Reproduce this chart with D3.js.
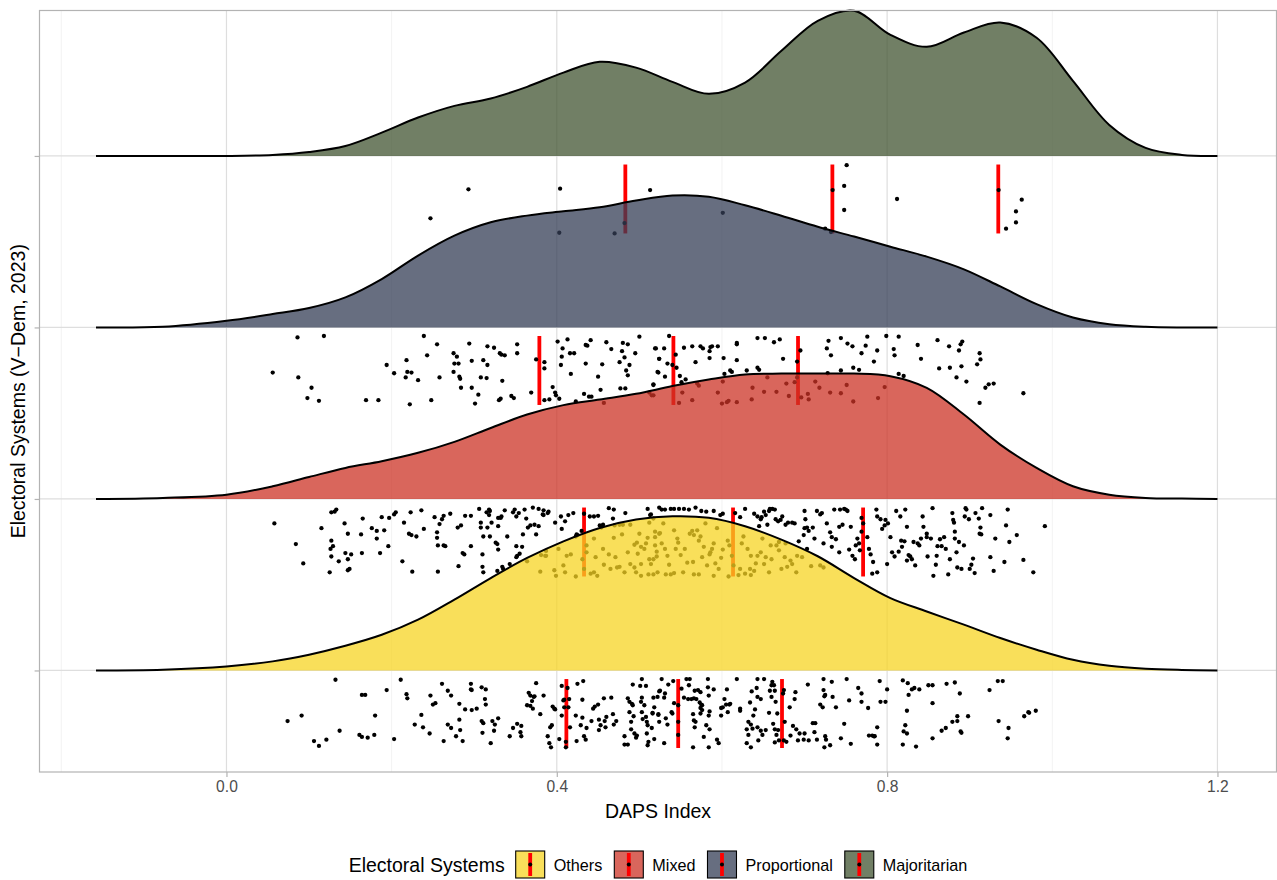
<!DOCTYPE html>
<html><head><meta charset="utf-8">
<script src="https://cdn.jsdelivr.net/npm/d3@7"></script>
<style>
body{margin:0;background:#fff}
svg{display:block;font-family:"Liberation Sans",Arial,Helvetica,sans-serif}
</style></head>
<body><svg id="chart" width="1277" height="880"></svg>
<script>
// ---------- data ----------
const categories = ["Others", "Mixed", "Proportional", "Majoritarian"];
const fillColors = ["#F7D423", "#CC3326", "#343E56", "#425432"];
const xTicks = [0, 0.4, 0.8, 1.2];
const xMinorTicks = [-0.2, 0.2, 0.6, 1.0];
const xTitle = "DAPS Index";
const yTitle = "Electoral Systems (V\u2212Dem, 2023)";
const legendTitle = "Electoral Systems";

// density curve sample positions (DAPS) and scaled ridge heights
const densityX = [-0.158,-0.077,0,0.056,0.100,0.144,0.188,0.232,0.276,0.320,0.364,0.408,0.452,0.496,0.540,0.584,0.628,0.672,0.716,0.760,0.804,0.848,0.893,0.937,0.981,1.025,1.069,1.113,1.157,1.200];
const densOthers = [0,0.004,0.023,0.053,0.092,0.144,0.208,0.296,0.413,0.539,0.656,0.753,0.831,0.880,0.899,0.890,0.841,0.763,0.666,0.539,0.422,0.344,0.267,0.189,0.121,0.062,0.027,0.010,0.003,0];
const densMixed = [0,0.006,0.025,0.074,0.128,0.181,0.220,0.269,0.333,0.414,0.492,0.547,0.580,0.613,0.658,0.696,0.726,0.731,0.731,0.731,0.716,0.648,0.492,0.317,0.181,0.074,0.025,0.006,0.002,0];
const densProportional = [0,0.004,0.039,0.078,0.113,0.175,0.282,0.419,0.535,0.613,0.652,0.677,0.701,0.740,0.769,0.762,0.712,0.651,0.587,0.530,0.471,0.413,0.339,0.239,0.136,0.058,0.019,0.004,0,0];
const densMajoritarian = [0,0,0,0.006,0.023,0.058,0.136,0.224,0.292,0.335,0.403,0.486,0.549,0.515,0.432,0.362,0.428,0.613,0.788,0.846,0.706,0.636,0.720,0.778,0.689,0.438,0.181,0.047,0.006,0];

// quartile markers (25%, 50%, 75%)
const quantOthers = [0.4116, 0.547, 0.6727];
const quantMixed = [0.433, 0.6134, 0.7709];
const quantProportional = [0.3789, 0.5412, 0.6921];
const quantMajoritarian = [0.483, 0.7337, 0.9346];

// observations: [DAPS index, jitter (0 = top of rain band, 1 = bottom)]
const ptsOthers = [[0.132,0.01],[0.074,0.61],[0.091,0.53],[0.106,0.90],[0.112,0.97],[0.121,0.88],[0.137,0.75],[0.164,0.23],[0.168,0.23],[0.180,0.53],[0.161,0.81],[0.164,0.84],[0.171,0.85],[0.179,0.81],[0.194,0.16],[0.203,0.87],[0.211,0.01],[0.218,0.22],[0.219,0.28],[0.228,0.66],[0.236,0.52],[0.238,0.70],[0.246,0.79],[0.247,0.24],[0.250,0.37],[0.253,0.35],[0.261,0.07],[0.263,0.90],[0.268,0.17],[0.272,0.24],[0.268,0.66],[0.272,0.71],[0.278,0.83],[0.282,0.36],[0.282,0.59],[0.283,0.74],[0.286,0.90],[0.289,0.44],[0.296,0.07],[0.296,0.15],[0.297,0.16],[0.297,0.45],[0.303,0.43],[0.309,0.12],[0.314,0.15],[0.313,0.29],[0.314,0.37],[0.309,0.61],[0.311,0.64],[0.310,0.78],[0.320,0.93],[0.322,0.61],[0.325,0.66],[0.324,0.75],[0.329,0.57],[0.343,0.83],[0.347,0.71],[0.352,0.65],[0.356,0.77],[0.357,0.68],[0.357,0.83],[0.364,0.38],[0.368,0.39],[0.366,0.20],[0.368,0.24],[0.370,0.32],[0.371,0.43],[0.372,0.26],[0.375,0.06],[0.373,0.25],[0.384,0.24],[0.380,0.51],[0.389,0.83],[0.391,0.93],[0.393,0.99],[0.392,0.70],[0.394,0.67],[0.395,0.40],[0.397,0.43],[0.398,0.44],[0.403,0.87],[0.406,0.10],[0.406,0.53],[0.408,0.31],[0.409,0.41],[0.409,0.30],[0.411,0.99],[0.411,0.91],[0.413,0.13],[0.415,0.29],[0.414,0.41],[0.416,0.70],[0.423,0.53],[0.424,0.90],[0.425,0.07],[0.432,0.03],[0.431,0.30],[0.429,0.67],[0.431,0.56],[0.433,0.83],[0.435,0.88],[0.436,0.71],[0.442,0.61],[0.444,0.43],[0.446,0.40],[0.450,0.37],[0.451,0.59],[0.451,0.74],[0.453,0.67],[0.457,0.28],[0.458,0.61],[0.460,0.55],[0.459,0.70],[0.466,0.27],[0.468,0.51],[0.469,0.66],[0.472,0.61],[0.482,0.83],[0.482,0.95],[0.486,0.95],[0.486,0.28],[0.488,0.33],[0.488,0.48],[0.491,0.36],[0.492,0.08],[0.492,0.38],[0.493,0.54],[0.490,0.62],[0.490,0.73],[0.494,0.79],[0.496,0.85],[0.497,0.82],[0.501,0.10],[0.503,0.00],[0.503,0.27],[0.503,0.48],[0.502,0.33],[0.504,0.58],[0.506,0.38],[0.508,0.55],[0.508,0.10],[0.509,0.62],[0.509,0.79],[0.510,0.67],[0.510,0.96],[0.511,0.91],[0.516,0.49],[0.517,0.27],[0.522,0.26],[0.523,0.51],[0.524,0.18],[0.524,0.62],
[0.527,0.00],[0.518,0.41],[0.516,0.50],[0.515,0.71],[0.518,0.87],[0.523,0.52],[0.525,0.17],[0.530,0.27],[0.532,0.57],[0.535,0.08],[0.531,0.21],[0.530,0.93],[0.534,0.66],[0.539,0.48],[0.540,0.50],[0.541,0.03],[0.542,0.35],[0.547,0.38],[0.547,0.62],[0.547,0.81],[0.551,0.14],[0.554,0.27],[0.557,0.00],[0.561,0.00],[0.560,0.09],[0.559,0.29],[0.563,0.29],[0.566,0.28],[0.569,0.29],[0.567,0.17],[0.571,0.16],[0.574,0.19],[0.573,0.34],[0.575,0.37],[0.574,0.42],[0.576,0.38],[0.565,0.51],[0.566,0.60],[0.567,0.70],[0.568,0.62],[0.574,0.50],[0.576,0.45],[0.581,0.67],[0.585,0.73],[0.585,0.47],[0.584,0.53],[0.583,0.00],[0.583,0.12],[0.584,0.24],[0.590,0.15],[0.578,0.84],[0.565,0.99],[0.584,0.99],[0.594,0.88],[0.596,0.93],[0.599,0.53],[0.599,0.42],[0.601,0.41],[0.603,0.29],[0.605,0.37],[0.606,0.15],[0.607,0.48],[0.609,0.37],[0.610,0.36],[0.618,0.00],[0.622,0.43],[0.622,0.46],[0.634,0.34],[0.636,0.18],[0.638,0.53],[0.640,0.44],[0.642,0.13],[0.643,0.00],[0.643,0.26],[0.647,0.29],[0.651,0.00],[0.632,0.62],[0.635,0.66],[0.630,0.73],[0.632,0.81],[0.630,0.93],[0.635,0.99],[0.637,0.72],[0.643,0.70],[0.644,0.89],[0.647,0.75],[0.649,0.81],[0.653,0.74],[0.657,0.49],[0.660,0.26],[0.658,0.17],[0.660,0.09],[0.661,0.04],[0.663,0.09],[0.664,0.17],[0.665,0.33],[0.667,0.50],[0.662,0.65],[0.664,0.73],[0.666,0.81],[0.668,0.74],[0.669,0.89],[0.664,0.92],[0.675,0.16],[0.674,0.21],[0.676,0.62],[0.675,0.89],[0.678,0.91],[0.683,0.82],[0.686,0.68],[0.688,0.29],[0.689,0.19],[0.682,0.41],[0.690,0.73],[0.692,0.89],[0.694,0.79],[0.699,0.88],[0.700,0.79],[0.704,0.08],[0.705,0.89],[0.710,0.64],[0.713,0.64],[0.712,0.77],[0.715,0.88],[0.719,0.37],[0.722,0.41],[0.723,0.00],[0.723,0.16],[0.725,0.23],[0.724,0.25],[0.725,0.83],[0.726,0.88],[0.724,0.99],[0.731,0.96],[0.733,0.04],[0.734,0.26],[0.738,0.41],[0.744,0.86],[0.748,0.65],[0.751,0.00],[0.754,0.31],[0.756,0.94],[0.765,0.13],[0.769,0.33],[0.769,0.21],[0.777,0.42],[0.778,0.82],[0.782,0.82],[0.784,0.83],[0.785,0.83],[0.788,0.70],[0.788,0.95],[0.791,0.03],[0.792,0.33],[0.798,0.33],[0.800,0.15],[0.819,0.02],[0.825,0.06],[0.826,0.23],[0.830,0.15],[0.833,0.13],[0.839,0.15],[0.850,0.09],[0.855,0.09],[0.855,0.35],[0.824,0.46],[0.822,0.67],[0.820,0.76],[0.824,0.79],[0.819,0.95],[0.835,0.98],[0.855,0.86],[0.866,0.75],[0.871,0.71],[0.872,0.07],[0.879,0.62],[0.882,0.05],[0.885,0.61],[0.885,0.54],[0.888,0.21],[0.889,0.76],[0.890,0.78],[0.898,0.54],[0.924,0.16],[0.934,0.03],[0.940,0.03],[0.935,0.61],[0.947,0.71],[0.946,0.86],[0.966,0.54],[0.971,0.48],[0.972,0.49],[0.980,0.46]];

const ptsMixed = [[0.058,0.23],[0.084,0.53],[0.093,0.81],[0.115,0.30],[0.127,0.07],[0.131,0.06],[0.133,0.03],[0.127,0.48],[0.129,0.56],[0.126,0.60],[0.127,0.71],[0.125,0.94],[0.136,0.78],[0.143,0.23],[0.147,0.38],[0.144,0.66],[0.151,0.68],[0.147,0.75],[0.147,0.91],[0.149,0.89],[0.163,0.39],[0.165,0.16],[0.164,0.66],[0.176,0.30],[0.182,0.34],[0.182,0.45],[0.186,0.66],[0.188,0.14],[0.191,0.33],[0.196,0.56],[0.197,0.15],[0.203,0.10],[0.205,0.07],[0.213,0.78],[0.215,0.22],[0.221,0.38],[0.223,0.07],[0.224,0.40],[0.225,0.93],[0.230,0.42],[0.236,0.04],[0.239,0.31],[0.252,0.14],[0.255,0.36],[0.255,0.44],[0.256,0.55],[0.256,0.93],[0.258,0.24],[0.261,0.17],[0.263,0.12],[0.263,0.55],[0.265,0.56],[0.271,0.09],[0.281,0.85],[0.280,0.29],[0.284,0.26],[0.286,0.66],[0.288,0.68],[0.289,0.12],[0.296,0.56],[0.296,0.12],[0.306,0.02],[0.308,0.22],[0.308,0.29],[0.311,0.42],[0.310,0.68],[0.310,0.86],[0.311,0.94],[0.316,0.29],[0.315,0.07],[0.318,0.03],[0.319,0.05],[0.318,0.11],[0.321,0.22],[0.319,0.42],[0.326,0.51],[0.328,0.53],[0.329,0.61],[0.328,0.92],[0.329,0.27],[0.329,0.15],[0.332,0.15],[0.333,0.13],[0.334,0.86],[0.335,0.89],[0.337,0.04],[0.340,0.42],[0.343,0.82],[0.347,0.07],[0.349,0.03],[0.351,0.13],[0.351,0.56],[0.352,0.70],[0.351,0.72],[0.354,0.08],[0.355,0.67],[0.358,0.57],[0.359,0.39],[0.361,0.03],[0.363,0.16],[0.365,0.29],[0.364,0.78],[0.368,0.26],[0.371,0.00],[0.373,0.25],[0.375,0.39],[0.378,0.02],[0.378,0.27],[0.381,0.69],[0.383,0.10],[0.384,0.04],[0.384,0.11],[0.387,0.63],[0.387,0.70],[0.389,0.08],[0.390,0.06],[0.398,0.22],[0.402,0.60],[0.405,0.13],[0.406,0.31],[0.410,0.20],[0.414,0.11],[0.420,0.08],[0.423,0.42],[0.425,0.40],[0.424,0.39],[0.430,0.34],[0.433,0.09],[0.440,0.13],[0.445,0.13],[0.450,0.12],[0.463,0.01],[0.469,0.03],[0.452,0.26],[0.454,0.29],[0.456,0.25],[0.468,0.16],[0.470,0.26],[0.476,0.25],[0.480,0.25],[0.483,0.08],[0.489,0.25],[0.510,0.02],[0.514,0.10],[0.512,0.22],[0.517,0.16],[0.524,0.00],
[0.380,0.93],[0.386,0.70],[0.397,0.91],[0.399,0.99],[0.408,0.84],[0.410,0.94],[0.412,0.70],[0.417,0.68],[0.423,1.00],[0.436,0.65],[0.436,0.55],[0.441,0.96],[0.445,0.94],[0.445,0.45],[0.447,0.72],[0.456,0.60],[0.457,0.83],[0.463,0.68],[0.469,0.44],[0.471,0.72],[0.473,0.87],[0.476,0.86],[0.479,0.39],[0.482,0.94],[0.486,0.65],[0.489,0.82],[0.494,0.54],[0.497,0.51],[0.500,0.38],[0.502,0.82],[0.502,0.57],[0.506,0.60],[0.508,0.52],[0.510,0.44],[0.512,0.75],[0.511,0.97],[0.514,0.82],[0.519,0.55],[0.521,0.71],[0.522,0.94],[0.524,0.38],[0.496,0.94],[0.502,0.99],[0.498,0.67],[0.431,0.75],[0.433,0.89],[0.449,0.99],[0.465,0.89],[0.494,0.87],
[0.519,0.43],[0.521,0.64],[0.517,0.75],[0.517,0.97],[0.527,0.52],[0.525,0.37],[0.529,0.23],[0.531,0.60],[0.534,0.70],[0.536,0.83],[0.532,0.97],[0.542,0.33],[0.542,0.95],[0.544,0.60],[0.546,0.45],[0.547,0.51],[0.550,0.69],[0.555,0.60],[0.558,0.80],[0.561,0.38],[0.564,0.34],[0.565,0.79],[0.566,0.40],[0.570,0.33],[0.572,0.48],[0.574,0.42],[0.576,0.72],[0.578,0.57],[0.572,0.97],[0.580,0.23],[0.582,0.84],[0.585,0.68],[0.586,0.65],[0.588,0.60],[0.590,0.52],[0.592,0.81],[0.594,0.30],[0.596,0.89],[0.599,0.73],[0.601,0.61],[0.607,0.48],[0.609,0.55],[0.612,0.70],[0.614,0.84],[0.622,0.89],[0.624,0.52],[0.626,0.42],[0.628,0.96],[0.631,0.60],[0.634,0.89],[0.635,0.70],[0.639,0.92],[0.641,0.81],[0.643,0.70],[0.647,0.65],[0.649,0.45],[0.651,0.82],[0.657,0.94],[0.653,0.72],[0.660,0.75],[0.659,0.55],[0.666,0.55],[0.669,0.50],[0.669,0.62],[0.672,0.89],[0.676,0.72],[0.677,0.52],[0.679,0.86],[0.683,0.77],[0.685,0.82],[0.690,0.94],[0.691,0.70],[0.697,0.72],[0.703,0.60],[0.708,0.85],[0.719,0.84],[0.723,0.87],[0.519,0.35],[0.538,0.97],[0.553,0.94],[0.566,0.97],[0.590,0.99],[0.608,1.00],[0.620,0.98],[0.635,0.98],
[0.513,0.11],[0.527,0.03],[0.531,0.03],[0.538,0.02],[0.542,0.02],[0.548,0.02],[0.554,0.02],[0.560,0.03],[0.568,0.00],[0.575,0.05],[0.581,0.06],[0.590,0.05],[0.598,0.11],[0.601,0.09],[0.616,0.08],[0.622,0.14],[0.628,0.02],[0.639,0.09],[0.643,0.13],[0.645,0.27],[0.647,0.17],[0.648,0.14],[0.651,0.06],[0.653,0.11],[0.655,0.25],[0.657,0.05],[0.658,0.02],[0.661,0.02],[0.664,0.03],[0.665,0.17],[0.668,0.20],[0.671,0.18],[0.673,0.13],[0.677,0.25],[0.680,0.22],[0.685,0.22],[0.688,0.23],[0.693,0.49],[0.699,0.40],[0.700,0.05],[0.701,0.17],[0.700,0.30],[0.703,0.29],[0.705,0.34],[0.710,0.29],[0.712,0.45],[0.715,0.05],[0.719,0.10],[0.721,0.08],[0.723,0.52],[0.727,0.23],[0.731,0.36],[0.733,0.43],[0.733,0.57],[0.736,0.03],[0.738,0.46],[0.742,0.28],[0.742,0.65],[0.743,0.03],[0.746,0.25],[0.748,0.02],[0.750,0.03],[0.752,0.05],[0.754,0.61],[0.756,0.28],[0.758,0.70],[0.761,0.75],[0.762,0.55],[0.764,0.45],[0.766,0.52],[0.767,0.62],[0.769,0.15],[0.769,0.35],[0.771,0.23],[0.776,0.43],[0.778,0.60],[0.780,0.68],[0.782,0.96],[0.783,0.79],[0.788,0.94],[0.787,0.03],[0.788,0.13],[0.792,0.17],[0.794,0.31],[0.797,0.26],[0.798,0.18],[0.800,0.82],[0.801,0.23],[0.804,0.43],[0.806,0.65],[0.809,0.71],[0.811,0.05],[0.814,0.64],[0.816,0.13],[0.817,0.48],[0.818,0.57],[0.821,0.49],[0.822,0.03],[0.824,0.28],[0.826,0.69],[0.824,0.77],[0.828,0.71],[0.830,0.75],[0.832,0.50],[0.834,0.84],[0.837,0.52],[0.839,0.55],[0.841,0.45],[0.843,0.13],[0.844,0.28],[0.848,0.38],[0.848,0.43],[0.849,0.71],[0.853,0.45],[0.855,0.01],[0.856,0.99],[0.859,0.83],[0.860,0.70],[0.861,0.56],[0.864,0.46],[0.866,0.56],[0.869,0.43],[0.871,0.60],[0.874,0.97],[0.876,0.75],[0.879,0.08],[0.880,0.18],[0.881,0.22],[0.882,0.35],[0.882,0.45],[0.884,0.65],[0.885,0.87],[0.887,0.50],[0.890,0.89],[0.893,0.55],[0.894,0.13],[0.895,0.01],[0.896,0.03],[0.899,0.17],[0.900,0.89],[0.902,0.83],[0.904,0.74],[0.906,0.95],[0.907,0.08],[0.911,0.16],[0.912,0.38],[0.913,0.29],[0.914,0.39],[0.915,0.01],[0.925,0.72],[0.925,0.11],[0.929,0.92],[0.931,0.45],[0.942,0.79],[0.944,0.26],[0.946,0.03],[0.948,0.50],[0.957,0.40],[0.965,0.76],[0.977,0.94],[0.991,0.27]];

const ptsProportional = [[0.056,0.53],[0.086,0.02],[0.118,0.00],[0.087,0.60],[0.103,0.75],[0.098,0.90],[0.112,0.94],[0.169,0.93],[0.184,0.93],[0.194,0.42],[0.203,0.54],[0.218,0.35],[0.217,0.60],[0.219,0.52],[0.224,0.53],[0.222,0.99],[0.232,0.64],[0.239,0.00],[0.243,0.28],[0.248,0.93],[0.255,0.12],[0.258,0.60],[0.275,0.25],[0.275,0.52],[0.276,0.40],[0.279,0.30],[0.281,0.40],[0.282,0.59],[0.283,0.62],[0.284,0.75],[0.294,0.11],[0.297,0.36],[0.297,0.75],[0.301,0.98],[0.305,0.85],[0.308,0.60],[0.311,0.35],[0.315,0.61],[0.316,0.42],[0.316,0.15],[0.324,0.17],[0.331,0.25],[0.333,0.27],[0.337,0.28],[0.334,0.65],[0.330,0.93],[0.332,0.91],[0.345,0.87],[0.348,0.90],[0.352,0.12],[0.352,0.25],[0.369,0.82],[0.375,0.34],[0.385,0.38],[0.385,0.47],[0.385,0.93],[0.391,0.92],[0.395,0.74],[0.398,0.82],[0.399,0.86],[0.401,0.08],[0.403,0.91],[0.405,0.42],[0.406,0.30],[0.407,0.18],[0.413,0.05],[0.416,0.25],[0.421,0.25],[0.417,0.55],[0.423,0.95],[0.433,0.84],[0.435,0.13],[0.437,0.14],[0.435,0.40],[0.439,0.88],[0.442,0.88],[0.441,0.06],[0.450,0.59],[0.453,0.78],[0.455,0.41],[0.460,0.09],[0.466,0.19],[0.476,0.38],[0.477,0.76],[0.480,0.10],[0.479,0.22],[0.483,0.76],[0.482,0.31],[0.486,0.12],[0.488,0.42],[0.484,0.50],[0.486,0.57],[0.495,0.25],[0.500,0.01],[0.517,0.71],[0.520,0.18],[0.523,0.53],[0.524,0.33],[0.457,0.97],[0.512,0.82],[0.517,0.86],
[0.536,0.00],[0.519,0.18],[0.530,0.18],[0.524,0.33],[0.534,0.40],[0.540,0.42],[0.545,0.46],[0.544,0.27],[0.554,0.17],[0.564,0.15],[0.574,0.15],[0.577,0.18],[0.586,0.16],[0.588,0.15],[0.585,0.22],[0.595,0.15],[0.585,0.32],[0.568,0.38],[0.522,0.52],[0.531,0.59],[0.549,0.58],[0.551,0.67],[0.556,0.63],[0.517,0.70],[0.618,0.10],[0.618,0.12],[0.602,0.32],[0.618,0.35],[0.603,0.55],[0.610,0.50],[0.612,0.52],[0.630,0.50],[0.643,0.46],[0.645,0.49],[0.643,0.03],[0.652,0.03],[0.663,0.09],[0.670,0.05],[0.674,0.33],[0.695,0.21],[0.691,0.37],[0.727,0.18],[0.729,0.07],[0.732,0.28],[0.744,0.03],[0.752,0.11],[0.758,0.15],[0.774,0.14],[0.776,0.01],[0.769,0.25],[0.788,0.21],[0.784,0.37],[0.744,0.50],[0.759,0.46],[0.766,0.49],[0.728,0.54],[0.799,0.00],[0.814,0.01],[0.808,0.19],[0.809,0.28],[0.837,0.13],[0.841,0.33],[0.861,0.06],[0.875,0.15],[0.887,0.21],[0.889,0.12],[0.891,0.08],[0.890,0.44],[0.876,0.46],[0.863,0.47],[0.912,0.25],[0.913,0.34],[0.909,0.41],[0.814,0.55],[0.820,0.58],[0.884,0.60],[0.896,0.66],[0.919,0.75],[0.923,0.70],[0.929,0.69],[0.965,0.83],[0.912,0.97],
[0.515,0.86],[0.552,0.82],[0.548,0.97],[0.564,0.93],[0.570,0.69],[0.572,0.72],[0.595,0.82],[0.601,0.66],[0.600,0.98],[0.606,0.96],[0.608,0.94],[0.618,0.96],[0.637,0.75],[0.636,0.92],[0.651,0.81],[0.655,0.60],[0.666,0.81],[0.678,0.69],[0.681,0.87],[0.688,0.67],[0.696,0.89],[0.704,0.84],[0.705,0.92],[0.713,0.66],[0.718,0.75],[0.731,0.82],[0.744,0.83],[0.751,0.71],[0.759,0.95],[0.789,0.90],[0.797,0.74],[0.691,0.60]];

const ptsMajoritarian = [[0.247,0.78],[0.293,0.36],[0.404,0.35],[0.403,0.99],[0.470,1.00],[0.482,0.85],[0.513,0.37],[0.601,0.70],[0.725,0.93],[0.732,0.98],[0.734,0.37],[0.748,0.31],[0.751,0.01],[0.748,0.66],[0.812,0.50],[0.935,0.37],[0.944,0.93],[0.956,0.68],[0.956,0.84],[0.963,0.51]];

const groups = [
  {name: categories[0], color: fillColors[0], dens: densOthers, quant: quantOthers, pts: ptsOthers},
  {name: categories[1], color: fillColors[1], dens: densMixed, quant: quantMixed, pts: ptsMixed},
  {name: categories[2], color: fillColors[2], dens: densProportional, quant: quantProportional, pts: ptsProportional},
  {name: categories[3], color: fillColors[3], dens: densMajoritarian, quant: quantMajoritarian, pts: ptsMajoritarian}
];

// ---------- layout ----------
const svg = d3.select("#chart");
const panel = {left: 39.5, right: 1276.5, top: 10.5, bottom: 772};
const x = d3.scaleLinear().domain([-0.2264, 1.2715]).range([panel.left, panel.right]);
const y = d3.scaleLinear().domain([0.408, 4.848]).range([panel.bottom, panel.top]);
const catPos = d3.scaleOrdinal().domain(categories).range([1, 2, 3, 4]);
const bandTop = 0.05, bandSpan = 0.402;
const fillAlpha = 0.75;

// grid
const g = svg.append("g");
g.selectAll(".minor").data(xMinorTicks).join("line")
  .attr("x1", d => x(d)).attr("x2", d => x(d))
  .attr("y1", panel.top).attr("y2", panel.bottom)
  .attr("stroke", "#EDEDED").attr("stroke-width", 0.7);
g.selectAll(".major").data(xTicks).join("line")
  .attr("x1", d => x(d)).attr("x2", d => x(d))
  .attr("y1", panel.top).attr("y2", panel.bottom)
  .attr("stroke", "#DEDEDE").attr("stroke-width", 1.2);
g.selectAll(".hmajor").data(categories).join("line")
  .attr("x1", panel.left).attr("x2", panel.right)
  .attr("y1", d => y(catPos(d))).attr("y2", d => y(catPos(d)))
  .attr("stroke", "#DEDEDE").attr("stroke-width", 1.2);

// quartile lines
const rain = svg.append("g");
groups.forEach(gr => {
  const p = catPos(gr.name);
  rain.selectAll(null).data(gr.quant).join("line")
    .attr("x1", d => x(d)).attr("x2", d => x(d))
    .attr("y1", y(p - bandTop)).attr("y2", y(p - bandTop - bandSpan))
    .attr("stroke", "#FF0000").attr("stroke-width", 3.8);
});
// points
groups.forEach(gr => {
  const p = catPos(gr.name);
  rain.selectAll(null).data(gr.pts).join("circle")
    .attr("cx", d => x(d[0]))
    .attr("cy", d => y(p - bandTop - d[1] * bandSpan))
    .attr("r", 2.15).attr("fill", "#000");
});

// densities (drawn over the rain, semi-transparent)
const dens = svg.append("g");
groups.slice().reverse().forEach(gr => {
  const p = catPos(gr.name);
  const rows = densityX.map((dx, i) => [dx, gr.dens[i]]);
  const curve = d3.curveCatmullRom.alpha(0.5);
  const area = d3.area().curve(curve)
    .x(d => x(d[0])).y0(y(p)).y1(d => y(p + d[1]));
  const line = d3.line().curve(curve)
    .x(d => x(d[0])).y(d => y(p + d[1]));
  dens.append("path").attr("d", area(rows))
    .attr("fill", gr.color).attr("fill-opacity", fillAlpha);
  dens.append("path").attr("d", line(rows))
    .attr("fill", "none").attr("stroke", "#000").attr("stroke-width", 2);
});

// panel border
svg.append("rect").attr("x", panel.left).attr("y", panel.top)
  .attr("width", panel.right - panel.left).attr("height", panel.bottom - panel.top)
  .attr("fill", "none").attr("stroke", "#B3B3B3").attr("stroke-width", 1.2);

// axes
const xAxis = d3.axisBottom(x).tickValues(xTicks).tickFormat(d3.format(".1f")).tickSize(4.9).tickPadding(4);
const xa = svg.append("g").attr("transform", `translate(0,${panel.bottom})`).call(xAxis);
xa.select(".domain").remove();
xa.selectAll(".tick line").attr("stroke", "#B3B3B3").attr("stroke-width", 1.2);
xa.selectAll(".tick text").attr("fill", "#4D4D4D").attr("font-size", 15.6)
  .attr("font-family", "Liberation Sans, Arial, sans-serif");

const yAxis = d3.axisLeft(y).tickValues(categories.map(c => catPos(c))).tickFormat("").tickSize(4.9);
const ya = svg.append("g").attr("transform", `translate(${panel.left},0)`).call(yAxis);
ya.select(".domain").remove();
ya.selectAll(".tick line").attr("stroke", "#B3B3B3").attr("stroke-width", 1.2);

svg.append("text").attr("x", (panel.left + panel.right) / 2).attr("y", 818)
  .attr("text-anchor", "middle").attr("font-size", 19.5).attr("fill", "#000").text(xTitle);
svg.append("text").attr("transform", `translate(25,${(panel.top + panel.bottom) / 2}) rotate(-90)`)
  .attr("text-anchor", "middle").attr("font-size", 19.5).attr("fill", "#000").text(yTitle);

// legend
const lg = svg.append("g");
let cx = 0;
const t = lg.append("text").attr("x", cx).attr("y", 872).attr("font-size", 19.5).attr("fill", "#000").text(legendTitle);
cx += t.node().getComputedTextLength() + 11;
groups.forEach((gr, i) => {
  const k = lg.append("g").attr("transform", `translate(${cx},851)`);
  k.append("rect").attr("width", 29).attr("height", 27).attr("fill", "#fff");
  k.append("rect").attr("width", 29).attr("height", 27)
    .attr("fill", gr.color).attr("fill-opacity", fillAlpha)
    .attr("stroke", "#000").attr("stroke-width", 1.1);
  k.append("line").attr("x1", 14.5).attr("x2", 14.5).attr("y1", 2).attr("y2", 25)
    .attr("stroke", "#FF0000").attr("stroke-width", 3.8);
  k.append("circle").attr("cx", 14.5).attr("cy", 13.5).attr("r", 2).attr("fill", "#000");
  cx += 29 + 9;
  const lt = lg.append("text").attr("x", cx).attr("y", 871).attr("font-size", 16.2).attr("fill", "#000").text(gr.name);
  cx += lt.node().getComputedTextLength() + 12;
});
const totalW = cx - 12;
lg.attr("transform", `translate(${(panel.left + panel.right) / 2 - totalW / 2},0)`);
</script>
</body></html>
